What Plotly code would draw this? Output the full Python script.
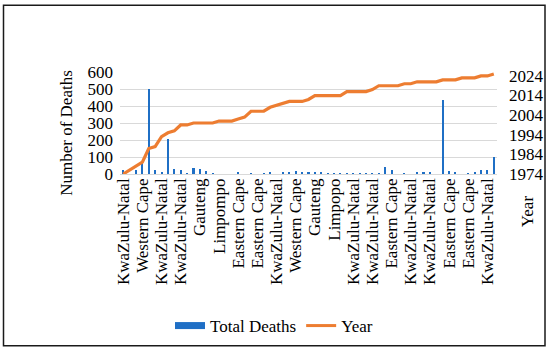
import plotly.graph_objects as go

# ---- data ----
tick_labels = ["KwaZulu-Natal", "Western Cape", "KwaZulu-Natal", "KwaZulu-Natal", "Gauteng",
               "Limpompo", "Eastern Cape", "Eastern Cape", "KwaZulu-Natal", "Western Cape",
               "Gauteng", "Limpopo", "KwaZulu-Natal", "KwaZulu-Natal", "Eastern Cape",
               "KwaZulu-Natal", "KwaZulu-Natal", "Eastern Cape", "Eastern Cape", "KwaZulu-Natal"]

total_deaths = [23, 0, 23, 67, 500, 23, 11, 206, 32, 21,
                4, 36, 27, 19, 4, 0, 0, 0, 11, 0,
                4, 0, 4, 8, 0, 8, 11, 17, 8, 8,
                6, 6, 4, 4, 2, 2, 2, 2, 2, 4,
                4, 40, 21, 0, 4, 0, 8, 8, 8, 0,
                435, 15, 8, 0, 4, 8, 21, 21, 101]

years = [1974, 1976, 1978, 1980, 1987, 1988, 1993, 1995, 1996, 1999,
         1999, 2000, 2000, 2000, 2000, 2001, 2001, 2001, 2002, 2003,
         2006, 2006, 2006, 2008, 2009, 2010, 2011, 2011, 2011, 2012,
         2014, 2014, 2014, 2014, 2014, 2016, 2016, 2016, 2016, 2017,
         2019, 2019, 2019, 2019, 2020, 2020, 2021, 2021, 2021, 2021,
         2022, 2022, 2022, 2023, 2023, 2023, 2024, 2024, 2025]

left_ticks = [0, 100, 200, 300, 400, 500, 600]
right_ticks = [1974, 1984, 1994, 2004, 2014, 2024]

idx = list(range(len(total_deaths)))
label_step = 3

BLUE = "#1f6fc5"
ORANGE = "#ED7D31"
FAM = "Liberation Serif"
FS = 17


def fnt(size=FS):
    return dict(family=FAM, size=size, color="#000000")


fig = go.Figure()
fig.add_trace(go.Bar(x=idx, y=total_deaths, width=0.32, marker_color=BLUE,
                     marker_line_width=0, name="Total Deaths", showlegend=False,
                     legendgroup="d"))
fig.add_trace(go.Scatter(x=idx, y=years, yaxis="y2", mode="lines",
                         line=dict(color=ORANGE, width=3.2), name="Year", showlegend=False))
# legend proxies
fig.add_trace(go.Scatter(x=[None], y=[None], mode="lines", line=dict(color=BLUE, width=7),
                         name="Total Deaths", legendgroup="d"))
fig.add_trace(go.Scatter(x=[None], y=[None], mode="lines", line=dict(color=ORANGE, width=3),
                         name="Year"))

L, R, T, B = 120, 53, 72, 181
W, H = 550, 357
pw, ph = W - L - R, H - T - B


def px(xp):
    return (xp - L) / pw


def py(yp):
    return (H - B - yp) / ph


fig.update_layout(
    template="none",
    width=W, height=H,
    margin=dict(l=L, r=R, t=T, b=B, pad=0),
    paper_bgcolor="white", plot_bgcolor="white",
    font=fnt(),
    bargap=0,
    xaxis=dict(range=[-0.5, len(idx) - 0.5], tickmode="array",
               tickvals=idx[::label_step], ticktext=tick_labels,
               tickangle=-90, showgrid=False, zeroline=False, showline=False,
               ticks="", tickfont=fnt()),
    yaxis=dict(range=[0, 600], tickmode="array", tickvals=left_ticks,
               showgrid=True, gridcolor="#d9d9d9", gridwidth=1,
               zeroline=True, zerolinecolor="#d9d9d9", zerolinewidth=1,
               showline=False, ticks="", ticklabelstandoff=6, tickfont=fnt()),
    yaxis2=dict(range=[1974, 2026], overlaying="y", side="right", tickmode="array",
                tickvals=right_ticks, showgrid=False, zeroline=False, showline=False,
                ticks="", ticklabelstandoff=11, tickfont=fnt()),
    legend=dict(orientation="h", x=px(170), xanchor="left", y=py(331), yanchor="middle",
                font=fnt(), bgcolor="rgba(0,0,0,0)", borderwidth=0),
    showlegend=True,
    annotations=[
        dict(text="Number of Deaths", x=px(67), y=py(134), xref="paper", yref="paper",
             xanchor="center", yanchor="middle",
             showarrow=False, textangle=-90, font=fnt()),
        dict(text="Year", x=px(527), y=py(214), xref="paper", yref="paper",
             xanchor="center", yanchor="middle",
             showarrow=False, textangle=-90, font=fnt()),
    ],
    shapes=[
        dict(type="rect", xref="paper", yref="paper",
             x0=px(3.5), x1=px(545), y0=py(351), y1=py(4),
             line=dict(color="#1a1a1a", width=1.5), fillcolor="rgba(0,0,0,0)"),
    ],
)

fig.write_html("out.html", config={"displayModeBar": False},
               post_script="document.body.style.margin='0px';")
